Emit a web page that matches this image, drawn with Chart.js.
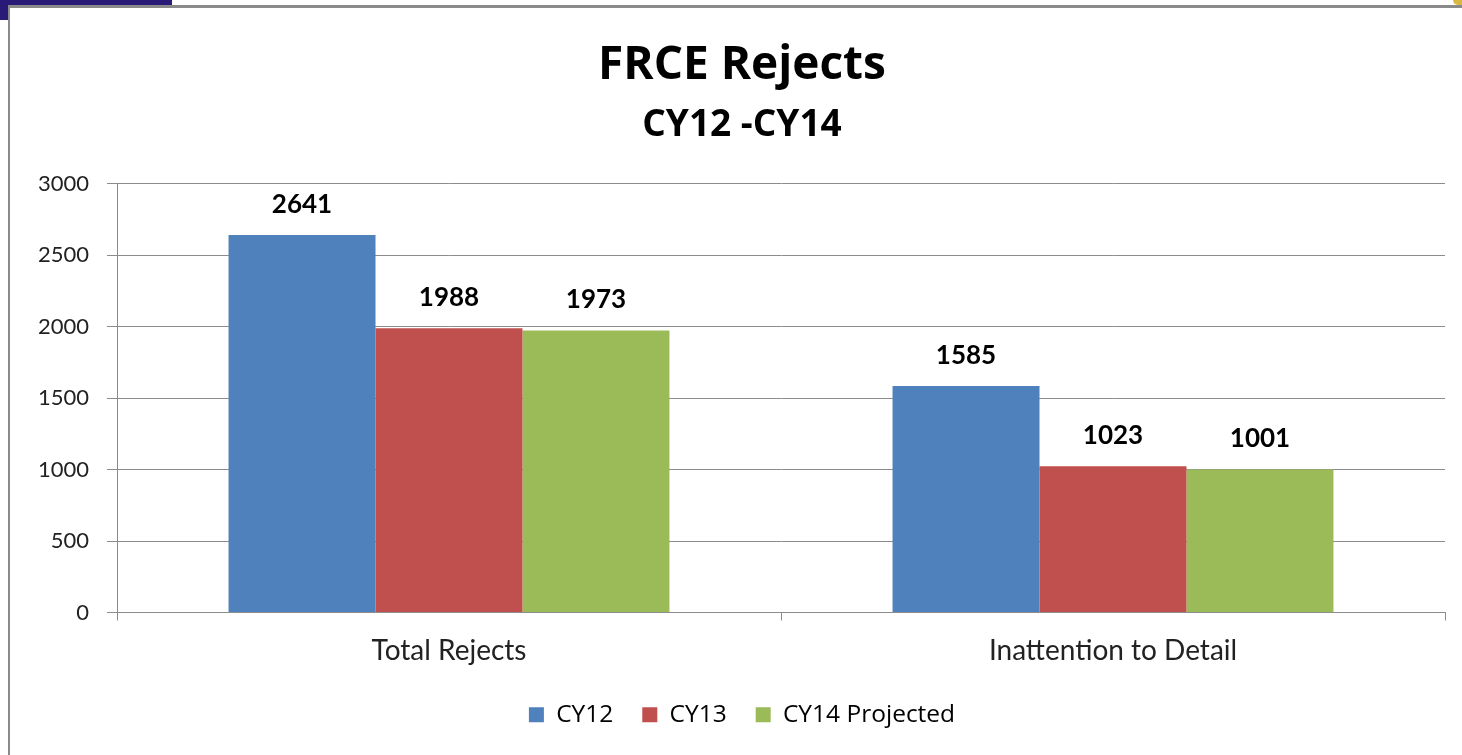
<!DOCTYPE html>
<html>
<head>
<meta charset="utf-8">
<script src="https://cdn.jsdelivr.net/npm/chart.js@4.4.1/dist/chart.umd.min.js"></script>
<style>
  html, body { margin: 0; padding: 0; background: #ffffff; }
  body { width: 1462px; height: 755px; position: relative; overflow: hidden; }
  #logo { position: absolute; left: 0; top: 0; width: 172px; height: 7px; background: #2a1a78; }
  #logo2 { position: absolute; left: 0; top: 0; width: 8px; height: 20px; background: #2a1a78; }
  #frame { position: absolute; left: 8px; top: 5px; width: 1470px; height: 770px; border-top: 3px solid #8a8a8a; border-left: 2px solid #8a8a8a; background: #fff; }
  #corner { position: absolute; left: 1453px; top: 0; width: 9px; height: 5px; background: #d8b840; border-radius: 0 0 0 6px; }
  #wrap { position: absolute; left: 0; top: 0; width: 1462px; height: 755px; }
</style>
</head>
<body>
<div id="logo"></div>
<div id="logo2"></div>
<div id="corner"></div>
<div id="frame"></div>
<div id="wrap"><canvas id="c" width="1462" height="755"></canvas></div>
<script>
const categories = ["Total Rejects", "Inattention to Detail"];
const seriesNames = ["CY12", "CY13", "CY14 Projected"];
const cy12 = [2641, 1585];
const cy13 = [1988, 1023];
const cy14 = [1973, 1001];
const yTicks = [0, 500, 1000, 1500, 2000, 2500, 3000];
const colors = ["#4F81BD", "#C0504D", "#9BBB59"];

const FONT = "Lato, 'Open Sans', sans-serif";
const TFONT = "'Open Sans', Lato, sans-serif";

const valueLabels = {
  id: 'valueLabels',
  afterDatasetsDraw(chart) {
    const ctx = chart.ctx;
    ctx.save();
    ctx.font = "bold 26px " + FONT;
    ctx.fillStyle = "#000";
    ctx.textAlign = "center";
    ctx.textBaseline = "alphabetic";
    chart.data.datasets.forEach((ds, i) => {
      const meta = chart.getDatasetMeta(i);
      meta.data.forEach((el, j) => {
        ctx.fillText(String(ds.data[j]), el.x, el.y - 22);
      });
    });
    ctx.restore();
  }
};

new Chart(document.getElementById('c'), {
  type: 'bar',
  data: {
    labels: categories,
    datasets: [
      { label: seriesNames[0], data: cy12, backgroundColor: colors[0] },
      { label: seriesNames[1], data: cy13, backgroundColor: colors[1] },
      { label: seriesNames[2], data: cy14, backgroundColor: colors[2] }
    ]
  },
  options: {
    responsive: false,
    animation: false,
    devicePixelRatio: 1,
    layout: { padding: { left: 39, right: 17, top: 0, bottom: 18 } },
    datasets: { bar: { categoryPercentage: 0.664, barPercentage: 1.0, borderWidth: 0 } },
    plugins: {
      title: {
        display: true,
        text: "FRCE Rejects",
        color: "#000",
        font: { family: TFONT, size: 46, weight: "bold", lineHeight: 1.2 },
        padding: { top: 38, bottom: 10 }
      },
      subtitle: {
        display: true,
        text: "CY12 -CY14",
        color: "#000",
        font: { family: TFONT, size: 37, weight: "bold", lineHeight: 1.2 },
        padding: { top: 0, bottom: 36 }
      },
      legend: {
        display: true,
        position: 'bottom',
        labels: {
          color: "#000",
          font: { family: TFONT, size: 24.5 },
          boxWidth: 15, boxHeight: 15,
          padding: 29
        }
      },
      tooltip: { enabled: false }
    },
    scales: {
      x: {
        grid: { display: true, drawOnChartArea: false, color: "#8c8c8c", tickLength: 8, offset: true },
        border: { display: true, color: "#8c8c8c", width: 1 },
        ticks: { color: "#222", font: { family: FONT, size: 28 }, padding: 14 },
        afterFit(scale) { scale.height = 61; }
      },
      y: {
        min: 0, max: 3000,
        afterBuildTicks(scale) { scale.ticks = yTicks.map(v => ({ value: v })); },
        grid: { color: "#8c8c8c", tickLength: 10 },
        border: { display: true, color: "#8c8c8c", width: 1 },
        ticks: { color: "#222", font: { family: FONT, size: 22 }, padding: 18, callback: (v) => String(v) },
        afterFit(scale) { scale.width = 78; }
      }
    }
  },
  plugins: [valueLabels]
});
</script>
</body>
</html>
